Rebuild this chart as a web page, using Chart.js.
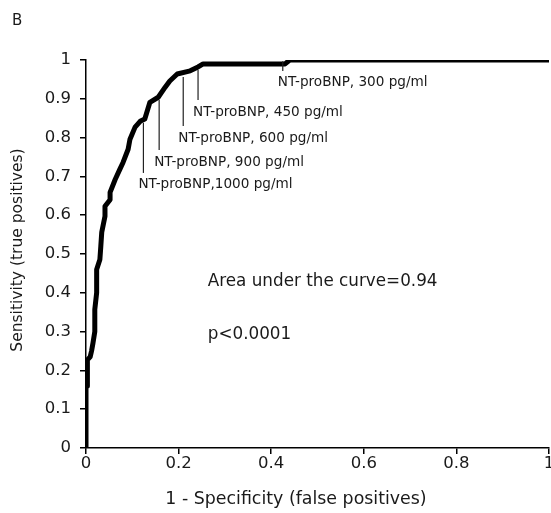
<!DOCTYPE html>
<html>
<head>
<meta charset="utf-8">
<script src="https://cdn.jsdelivr.net/npm/chart.js@4/dist/chart.umd.min.js"></script>
<style>
html,body{margin:0;padding:0;background:#fff;}
#wrap{width:551px;height:513px;position:relative;}
</style>
</head>
<body>
<div id="wrap"><canvas id="c" width="551" height="513"></canvas></div>
<script>
// ROC curve points
const fpr = [0,0,0.003,0.003,0.009,0.012,0.015,0.019,0.019,0.023,0.023,0.030,0.032,0.034,0.041,0.041,0.052,0.052,0.063,0.073,0.080,0.091,0.095,0.106,0.117,0.127,0.138,0.156,0.171,0.181,0.197,0.225,0.242,0.253,0.430,0.440,1.0];
const tpr = [0,0.160,0.160,0.227,0.235,0.250,0.270,0.300,0.357,0.400,0.460,0.486,0.520,0.556,0.597,0.623,0.640,0.659,0.692,0.718,0.736,0.770,0.796,0.827,0.842,0.848,0.891,0.904,0.930,0.946,0.964,0.972,0.982,0.990,0.990,1.0,1.0];

// cut-off markers
const markerLabels = ["NT-proBNP,1000 pg/ml","NT-proBNP, 900 pg/ml","NT-proBNP, 600 pg/ml","NT-proBNP, 450 pg/ml","NT-proBNP, 300 pg/ml"];
const markerFpr = [0.124,0.158,0.210,0.242,0.425];
const markerSens = [0.838,0.897,0.956,0.974,0.997];
const markerLabelSens = [0.678,0.737,0.799,0.866,0.941];

const xTicks = [0,0.2,0.4,0.6,0.8,1];
const yTicks = [0,0.1,0.2,0.3,0.4,0.5,0.6,0.7,0.8,0.9,1];

const panelLabel = "B";
const aucText = "Area under the curve=0.94";
const pText = "p<0.0001";
const xTitle = "1 - Specificity (false positives)";
const yTitle = "Sensitivity (true positives)";

const FONT = "'DejaVu Sans', sans-serif";
const TXT = '#1a1a1a';

const points = fpr.map((x,i)=>({x:x,y:tpr[i]}));

const annot = {
  id:'annot',
  afterDatasetsDraw(chart){
    const ctx = chart.ctx, xs = chart.scales.x, ys = chart.scales.y;
    ctx.save();
    ctx.fillStyle = TXT;
    ctx.strokeStyle = '#222';
    ctx.lineWidth = 1.2;
    ctx.font = "13.6px " + FONT;
    ctx.textBaseline = 'middle';
    ctx.textAlign = 'left';
    for(let i=0;i<markerLabels.length;i++){
      const px = xs.getPixelForValue(markerFpr[i]);
      const top = ys.getPixelForValue(markerSens[i]);
      const ly = ys.getPixelForValue(markerLabelSens[i]);
      ctx.beginPath();
      ctx.moveTo(px, top);
      ctx.lineTo(px, ly - 12);
      ctx.stroke();
      ctx.fillText(markerLabels[i], px - 5, ly);
    }
    ctx.font = "16.8px " + FONT;
    ctx.fillText(aucText, xs.getPixelForValue(0.263), ys.getPixelForValue(0.428));
    ctx.fillText(pText, xs.getPixelForValue(0.263), ys.getPixelForValue(0.291));
    ctx.restore();
  },
  afterDraw(chart){
    const ctx = chart.ctx;
    ctx.save();
    ctx.fillStyle = TXT;
    ctx.font = "15px " + FONT;
    ctx.textBaseline = 'middle';
    ctx.textAlign = 'left';
    ctx.fillText(panelLabel, 12, 21);
    ctx.textAlign = 'center';
    ctx.font = "17.4px " + FONT;
    ctx.fillText(xTitle, 296, 499);
    ctx.font = "15.5px " + FONT;
    ctx.translate(18, 250);
    ctx.rotate(-Math.PI/2);
    ctx.fillText(yTitle, 0, 0);
    ctx.restore();
  }
};

new Chart(document.getElementById('c'), {
  type:'scatter',
  data:{datasets:[{
    data: points,
    showLine:true,
    borderColor:'#000',
    backgroundColor:'#000',
    borderWidth:5,
    pointRadius:0,
    tension:0,
    borderJoinStyle:'round',
    borderCapStyle:'round'
  }]},
  options:{
    responsive:false,
    animation:false,
    layout:{padding:{left:0,right:2,top:60,bottom:0}},
    plugins:{legend:{display:false},tooltip:{enabled:false},title:{display:false}},
    scales:{
      x:{
        type:'linear', min:0, max:1,
        afterBuildTicks(s){ s.ticks = xTicks.map(v=>({value:v})); },
        afterFit(s){ s.height = 65; s.paddingLeft=0; s.paddingRight=0; },
        ticks:{color:TXT, font:{family:FONT,size:16.5}, padding:0, maxRotation:0, autoSkip:false,
          callback:(v)=>String(v)},
        grid:{drawOnChartArea:false, drawTicks:true, tickLength:6, color:'#000', lineWidth:1.5},
        border:{display:true, color:'#000', width:1.5}
      },
      y:{
        type:'linear', min:0, max:1,
        afterBuildTicks(s){ s.ticks = yTicks.map(v=>({value:v})); },
        afterFit(s){ s.width = 86; s.paddingTop=0; s.paddingBottom=0; },
        ticks:{color:TXT, font:{family:FONT,size:16.5}, padding:9, autoSkip:false,
          callback:(v)=>String(Math.round(v*10)/10)},
        grid:{drawOnChartArea:false, drawTicks:true, tickLength:6, color:'#000', lineWidth:1.5},
        border:{display:true, color:'#000', width:1.5}
      }
    }
  },
  plugins:[annot]
});
</script>
</body>
</html>
